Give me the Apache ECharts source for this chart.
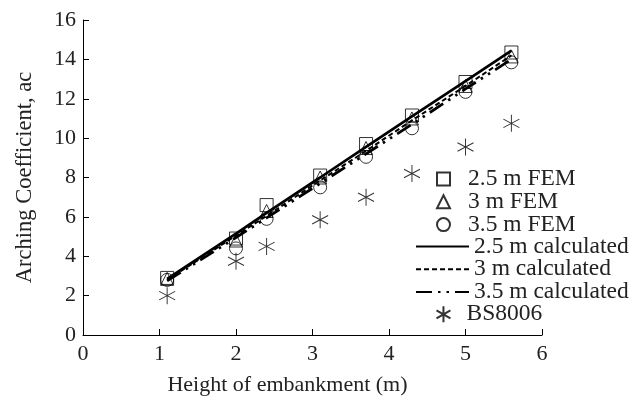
<!DOCTYPE html>
<html>
<head>
<meta charset="utf-8">
<script src="https://cdn.jsdelivr.net/npm/echarts@6/dist/echarts.min.js"></script>
<style>html,body{margin:0;padding:0;background:#fff}#c{width:643px;height:401px}</style>
</head>
<body>
<div id="c"></div>
<script>
var heights = [1.1, 2.0, 2.4, 3.1, 3.7, 4.3, 5.0, 5.6];
var fem25 = [2.9, 4.9, 6.6, 8.1, 9.7, 11.15, 12.85, 14.35];
var fem30 = [2.85, 4.8, 6.3, 8.0, 9.5, 11.0, 12.65, 14.15];
var fem35 = [2.8, 4.4, 5.9, 7.5, 9.05, 10.5, 12.35, 13.85];
var calc25 = [2.85, 5.15, 6.2, 8.0, 9.55, 11.1, 12.9, 14.45];
var calc30 = [2.8, 5.05, 6.05, 7.85, 9.35, 10.9, 12.65, 14.2];
var calc35 = [2.75, 4.95, 5.95, 7.7, 9.2, 10.7, 12.5, 14.0];
var bs8006 = [2.0, 3.75, 4.5, 5.85, 7.0, 8.2, 9.55, 10.75];
var xTicks = [0, 1, 2, 3, 4, 5, 6];
var yTicks = [0, 2, 4, 6, 8, 10, 12, 14, 16];
var femNames = ['2.5 m FEM', '3 m FEM', '3.5 m FEM'];
var calcNames = ['2.5 m calculated', '3 m calculated', '3.5 m calculated'];
var bsName = 'BS8006';

function pairs(ys) { return heights.map(function (x, i) { return [x, ys[i]]; }); }
var font = 'Liberation Serif';
var hollow = { color: 'rgba(0,0,0,0)', borderColor: '#000', borderWidth: 1 };
var star = 'path://M0,-1L0,1M-0.87,-0.5L0.87,0.5M-0.87,0.5L0.87,-0.5';
var legFont = 23.5, rowH = 22.8, legTop = 167, legGap = -1.2;
var legText = { fontFamily: font, fontSize: legFont, color: '#222', lineHeight: rowH };

var chart = echarts.init(document.getElementById('c'));
chart.setOption({
  animation: false,
  backgroundColor: '#fff',
  grid: { left: 83, right: 101, top: 20, bottom: 61 },
  xAxis: {
    type: 'value', min: 0, max: 6, interval: 1,
    name: 'Height of embankment (m)', nameLocation: 'middle', nameGap: 39,
    nameTextStyle: { fontFamily: font, fontSize: 22, color: '#222', padding: [0, 50, 0, 0] },
    axisLine: { show: true, lineStyle: { color: '#000', width: 1 } },
    axisTick: { show: true, inside: true, length: 6, lineStyle: { color: '#000' } },
    axisLabel: { fontFamily: font, fontSize: 22, color: '#222', margin: 8,
      formatter: function (v) { return xTicks.indexOf(v) >= 0 ? String(v) : ''; } },
    splitLine: { show: false }
  },
  yAxis: {
    type: 'value', min: 0, max: 16, interval: 2,
    name: 'Arching Coefficient, ac', nameLocation: 'middle', nameGap: 46,
    nameTextStyle: { fontFamily: font, fontSize: 22.5, color: '#222' },
    axisLine: { show: true, lineStyle: { color: '#000', width: 1 } },
    axisTick: { show: true, inside: true, length: 6, lineStyle: { color: '#000' } },
    axisLabel: { fontFamily: font, fontSize: 22, color: '#222', margin: 7,
      formatter: function (v) { return yTicks.indexOf(v) >= 0 ? String(v) : ''; } },
    splitLine: { show: false }
  },
  legend: [
    { orient: 'vertical', left: 436, top: legTop, padding: 0,
      itemWidth: 13, itemHeight: 13, itemGap: legGap,
      textStyle: Object.assign({}, legText, { padding: [0, 0, 0, 13] }), data: femNames },
    { orient: 'vertical', left: 415, top: legTop + 3 * rowH - 1, padding: 0,
      itemWidth: 53, itemHeight: 13, itemGap: legGap,
      textStyle: legText, data: calcNames },
    { orient: 'vertical', left: 434, top: legTop + 6 * rowH - 1.5, padding: 0,
      itemWidth: 16, itemHeight: 16, itemGap: 0,
      textStyle: Object.assign({}, legText, { padding: [0, 0, 0, 10] }),
      data: [bsName] }
  ],
  series: [
    { name: calcNames[0], type: 'line', data: pairs(calc25), symbol: 'none',
      itemStyle: { color: 'rgba(0,0,0,0)' },
      lineStyle: { color: '#000', width: 2.7, type: 'solid' }, z: 3 },
    { name: calcNames[1], type: 'line', data: pairs(calc30), symbol: 'none',
      itemStyle: { color: 'rgba(0,0,0,0)' },
      lineStyle: { color: '#000', width: 2, type: [5, 3] }, z: 3 },
    { name: calcNames[2], type: 'line', data: pairs(calc35), symbol: 'none',
      itemStyle: { color: 'rgba(0,0,0,0)' },
      lineStyle: { color: '#000', width: 2.8, type: [16, 6, 2.5, 6, 2.5, 6] }, z: 3 },
    { name: femNames[0], type: 'scatter', data: pairs(fem25), symbol: 'rect', symbolSize: 13,
      itemStyle: hollow, z: 4 },
    { name: femNames[1], type: 'scatter', data: pairs(fem30), symbol: 'triangle', symbolSize: 13,
      itemStyle: hollow, z: 4 },
    { name: femNames[2], type: 'scatter', data: pairs(fem35), symbol: 'circle', symbolSize: 13,
      itemStyle: hollow, z: 4 },
    { name: bsName, type: 'scatter', data: pairs(bs8006), symbol: star, symbolSize: [16, 17],
      itemStyle: { color: 'none', borderColor: '#000', borderWidth: 1 }, z: 4 }
  ]
});
</script>
</body>
</html>
